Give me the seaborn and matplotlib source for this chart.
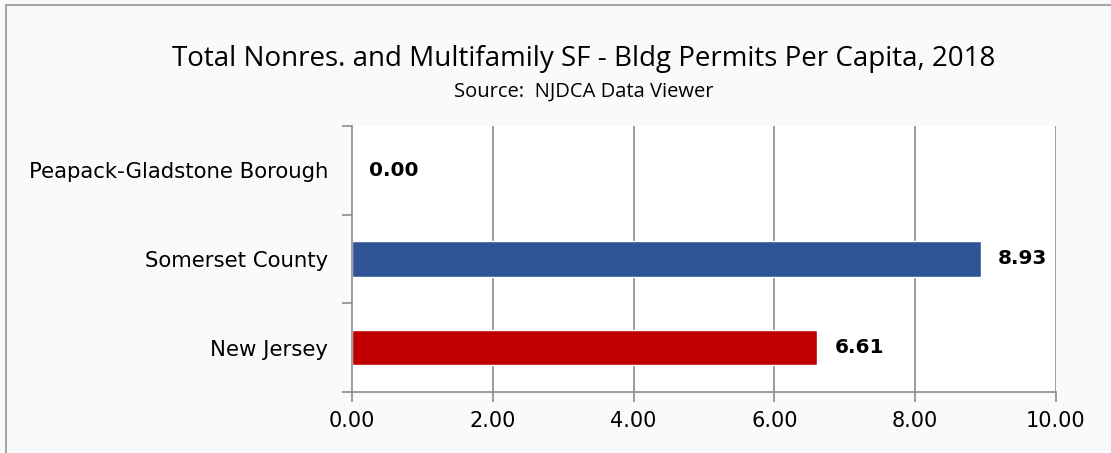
import matplotlib
matplotlib.use("Agg")
import matplotlib.pyplot as plt
import seaborn as sns
import pandas as pd
from matplotlib.patches import Rectangle

categories = ["Peapack-Gladstone Borough", "Somerset County", "New Jersey"]
values = [0.00, 8.93, 6.61]
colors = ["#2F5597", "#2F5597", "#C00000"]
xticks = [0, 2, 4, 6, 8, 10]

title = "Total Nonres. and Multifamily SF - Bldg Permits Per Capita, 2018"
subtitle = "Source:  NJDCA Data Viewer"

sns.set_theme(style="white")
plt.rcParams['font.family'] = ['DejaVu Sans']

df = pd.DataFrame({"cat": categories, "val": values})

fig = plt.figure(figsize=(11.11, 4.53), dpi=100)
fig.patch.set_facecolor("#F9FAFC")
ax = fig.add_axes([352/1111, 61/453, 704/1111, 266/453])
ax.set_facecolor("white")

sns.barplot(data=df, y="cat", x="val", hue="cat", palette=colors, legend=False,
            orient="h", width=0.4, ax=ax, saturation=1)

ax.set_xlim(0, 10)
ax.set_ylim(2.5, -0.5)
ax.set_xticks(xticks)
ax.set_xticklabels([f"{v:.2f}" for v in xticks], fontsize=15, color="black")
ax.set_yticks(range(len(categories)))
ax.set_yticklabels(categories, fontsize=15.3, color="black")
ax.set_xlabel("")
ax.set_ylabel("")

for x in xticks[1:]:
    ax.axvline(x, color="#8C8C8C", lw=1.2, zorder=0)

ax.tick_params(axis="y", which="major", length=0, pad=17)
ax.set_yticks([-0.5, 0.5, 1.5, 2.5], minor=True)
ax.tick_params(axis="y", which="minor", length=7, color="#8C8C8C", width=1.2, direction="out", left=True)
ax.tick_params(axis="x", which="major", length=7, color="#8C8C8C", width=1.2, direction="out", bottom=True, pad=7)

for s in ["top", "right"]:
    ax.spines[s].set_visible(False)
for s in ["left", "bottom"]:
    ax.spines[s].set_color("#8C8C8C")
    ax.spines[s].set_linewidth(1.2)

for i, v in enumerate(values):
    ax.annotate(f"{v:.2f}", xy=(v, i), xytext=(12.5, 0), textcoords="offset points",
                ha="left", va="center", fontsize=14.5, fontweight="bold", color="black")

fig.text(584/1111, 1 - 59/453, title, ha="center", va="center", fontsize=20,
         family=['Open Sans', 'DejaVu Sans'], color="black")
fig.text(584/1111, 1 - 92/453, subtitle, ha="center", va="center", fontsize=14.5,
         family=['Open Sans', 'DejaVu Sans'], color="black")

fig.patches.append(Rectangle((6/1111, -0.1), 1.2, 1 - 5/453 + 0.1, transform=fig.transFigure,
                             fill=False, edgecolor="#A6A6A6", lw=1.5, figure=fig))

fig.savefig("out.png", dpi=100, facecolor=fig.get_facecolor())
